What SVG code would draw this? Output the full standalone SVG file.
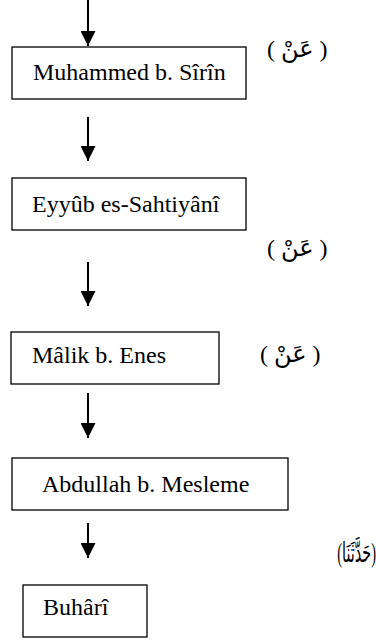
<svg xmlns="http://www.w3.org/2000/svg" width="377" height="641" viewBox="0 0 377 641">
<style>
.box{fill:#fff;stroke:#000;stroke-width:1.3}
.lbl{font-family:'Liberation Serif','Times New Roman','DejaVu Serif',serif;font-size:24px;fill:#000;font-weight:normal}
.ar{font-family:'Liberation Serif','DejaVu Sans',serif;font-size:24px;fill:#000}
.conn{stroke:#000;stroke-width:2;fill:none}
</style>
<defs>
<marker id="ah" viewBox="0 0 15 15" refX="15" refY="7.5" markerWidth="15" markerHeight="15" markerUnits="userSpaceOnUse" orient="auto">
<path d="M0,0 L15,7.5 L0,15 Z" fill="#000"/>
</marker>
</defs>
<g id="connectors">
<line class="conn" x1="88" y1="0" x2="88" y2="46" marker-end="url(#ah)"/>
<line class="conn" x1="88" y1="117" x2="88" y2="161" marker-end="url(#ah)"/>
<line class="conn" x1="88" y1="262" x2="88" y2="306" marker-end="url(#ah)"/>
<line class="conn" x1="88" y1="393" x2="88" y2="438" marker-end="url(#ah)"/>
<line class="conn" x1="88" y1="523" x2="88" y2="558" marker-end="url(#ah)"/>
</g>
<g id="n1"><rect class="box" x="12" y="47" width="234" height="52"/><text class="lbl" x="33" y="80">Muhammed b. Sîrîn</text></g>
<g id="n2"><rect class="box" x="12" y="178" width="234" height="52"/><text class="lbl" x="32" y="212">Eyyûb es-Sahtiyânî</text></g>
<g id="n3"><rect class="box" x="11" y="332" width="208" height="52"/><text class="lbl" x="32" y="363">Mâlik b. Enes</text></g>
<g id="n4"><rect class="box" x="12" y="458" width="276" height="52"/><text class="lbl" x="42" y="492">Abdullah b. Mesleme</text></g>
<g id="n5"><rect class="box" x="23" y="585" width="124" height="52"/><text class="lbl" x="43" y="615">Buhârî</text></g>
<g id="labels">
<text class="ar" x="267" y="57" direction="ltr">( عَنْ )</text>
<text class="ar" x="267" y="256" direction="ltr">( عَنْ )</text>
<text class="ar" x="260" y="362" direction="ltr">( عَنْ )</text>
<text class="ar" transform="translate(376,562) scale(0.6,1.15)" x="0" y="0" text-anchor="end" direction="ltr">(حَدَّثَنَا)</text>
</g>
</svg>
